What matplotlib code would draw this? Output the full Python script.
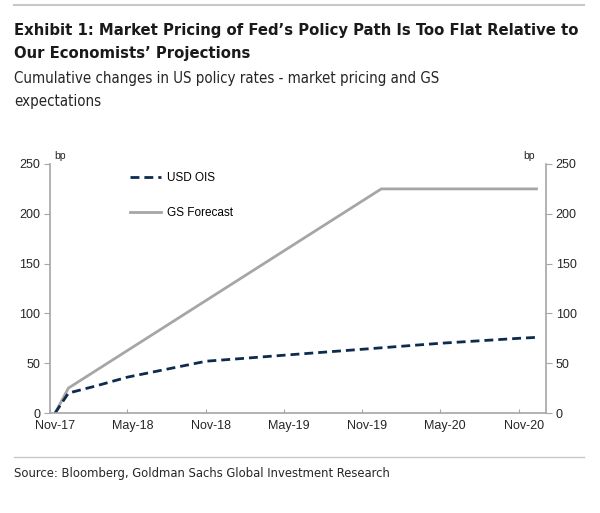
import matplotlib
matplotlib.use("Agg")
import matplotlib.pyplot as plt
import matplotlib.dates as mdates
import matplotlib.transforms as mtrans
from matplotlib import font_manager as fm
import pandas as pd
from matplotlib.lines import Line2D

# ---- data ----
ois_dates = ["2017-11-13", "2017-12-14", "2018-02-15", "2018-05-01", "2018-08-01",
             "2018-11-01", "2019-02-01", "2019-05-01", "2019-11-01", "2020-05-01",
             "2020-11-01", "2020-12-15"]
ois_values = [0, 20, 27, 36, 44, 52, 55, 58, 64, 70, 75, 76]

gs_dates = ["2017-11-13", "2017-12-14", "2019-12-15", "2020-12-15"]
gs_values = [0, 25, 225, 225]

xtick_dates = ["2017-11-01", "2018-05-01", "2018-11-01", "2019-05-01",
               "2019-11-01", "2020-05-01", "2020-11-01"]
ytick_values = [0, 50, 100, 150, 200, 250]

title_lines = ["Exhibit 1: Market Pricing of Fed\u2019s Policy Path Is Too Flat Relative to",
               "Our Economists\u2019 Projections"]
subtitle_lines = ["Cumulative changes in US policy rates - market pricing and GS",
                  "expectations"]
source = "Source: Bloomberg, Goldman Sachs Global Investment Research"
legend_labels = ["USD OIS", "GS Forecast"]

# ---- fonts ----
def pick_condensed(bold):
    best = None
    for f in fm.fontManager.ttflist:
        cond = ("Condensed" in f.name or "Narrow" in f.name or
                str(f.stretch) in ("condensed", "semi-condensed", "extra-condensed"))
        if not cond:
            continue
        w = f.weight if isinstance(f.weight, int) else (700 if "bold" in str(f.weight) else 400)
        if f.style != "normal":
            continue
        score = abs(w - (700 if bold else 400))
        if best is None or score < best[0]:
            best = (score, f.fname)
    return best[1] if best else None

cb = pick_condensed(True)
cr = pick_condensed(False)
title_fp = fm.FontProperties(fname=cb) if cb else fm.FontProperties(family=["Roboto", "DejaVu Sans"], weight="bold")
reg_fp = fm.FontProperties(fname=cr) if cr else fm.FontProperties(family=["Roboto", "DejaVu Sans"])
arial = ["Liberation Sans", "DejaVu Sans"]
gray = "#a6a6a6"
navy = "#0c2b4e"

# ---- figure ----
W, H = 600, 513
fig = plt.figure(figsize=(W / 100, H / 100), dpi=100)
fig.patch.set_facecolor("white")
renderer = fig.canvas.get_renderer()

def fx(px):
    return px / W

def fy(py):
    return 1 - py / H

def fit_text(x, y, s, fp, size, target_w, **kw):
    t = fig.text(fx(x), fy(y), s, fontproperties=fp, va="baseline", ha="left", **kw)
    t.set_fontsize(size)
    w = t.get_window_extent(renderer).width
    if target_w and w > 0:
        t.set_fontsize(min(size * target_w / w, size * 1.25))
    return t

fig.add_artist(Line2D([fx(14), fx(584)], [fy(5), fy(5)], color="#c8c8c8", lw=1.5))
fig.add_artist(Line2D([fx(14), fx(584)], [fy(457), fy(457)], color="#c8c8c8", lw=1.0))

t1 = fit_text(14, 35, title_lines[0], title_fp, 13, 563, color="#1a1a1a")
ts = t1.get_fontsize()
t2 = fig.text(fx(14), fy(58), title_lines[1], fontproperties=title_fp, va="baseline",
              ha="left", color="#1a1a1a")
t2.set_fontsize(ts)

s1 = fit_text(14, 83, subtitle_lines[0], reg_fp, 12, 427, color="#262626")
s2 = fig.text(fx(14), fy(106), subtitle_lines[1], fontproperties=reg_fp, va="baseline",
              ha="left", color="#262626")
s2.set_fontsize(s1.get_fontsize())

fit_text(14, 477, source, reg_fp, 10, 376, color="#262626")

ax = fig.add_axes([fx(50), 1 - 413 / H, fx(546) - fx(50), (413 - 164) / H])
ax.set_facecolor("white")

ois_x = pd.to_datetime(ois_dates)
gs_x = pd.to_datetime(gs_dates)
ax.plot(gs_x, gs_values, color=gray, lw=2.0, solid_capstyle="butt")
ax.plot(ois_x, ois_values, color=navy, lw=2.0, dashes=(3.2, 1.8))

ax.set_ylim(0, 250)
ax.set_xlim(pd.Timestamp("2017-11-01"), pd.Timestamp("2021-01-03"))
ax.set_yticks(ytick_values)
ax.set_xticks(pd.to_datetime(xtick_dates))
ax.xaxis.set_major_formatter(mdates.DateFormatter("%b-%y"))

ax.spines["top"].set_visible(False)
for s in ["left", "right", "bottom"]:
    ax.spines[s].set_color(gray)
    ax.spines[s].set_linewidth(1.2)

ax.tick_params(axis="y", which="both", left=True, right=True, labelleft=True,
               labelright=True, direction="out", length=4, color=gray,
               labelsize=9, labelcolor="#262626", pad=3)
ax.tick_params(axis="x", direction="in", length=3, color=gray, labelsize=9,
               labelcolor="#262626", pad=5)
fig.canvas.draw()
off = mtrans.ScaledTranslation(5 / 100, 0, fig.dpi_scale_trans)
for lab in ax.get_xticklabels():
    lab.set_family(arial)
    lab.set_transform(lab.get_transform() + off)
for lab in ax.yaxis.get_ticklabels(which="both"):
    lab.set_family(arial)
for tk in ax.yaxis.get_major_ticks():
    tk.label2.set_family(arial)

ax.text(0.008, 1.012, "bp", transform=ax.transAxes, family=arial, fontsize=7.5,
        color="#262626", va="bottom", ha="left")
ax.text(0.978, 1.012, "bp", transform=ax.transAxes, family=arial, fontsize=7.5,
        color="#262626", va="bottom", ha="right")

leg_handles = [Line2D([], [], color=navy, lw=2.0, dashes=(3.2, 1.8)),
               Line2D([], [], color=gray, lw=2.0)]
ax.legend(leg_handles, legend_labels, loc="upper left",
          bbox_to_anchor=(0.14, 1.012), frameon=False, handlelength=2.6,
          handletextpad=0.5, labelspacing=2.0, prop={"family": arial, "size": 8.5})

fig.savefig("out.png", dpi=100, facecolor="white")
